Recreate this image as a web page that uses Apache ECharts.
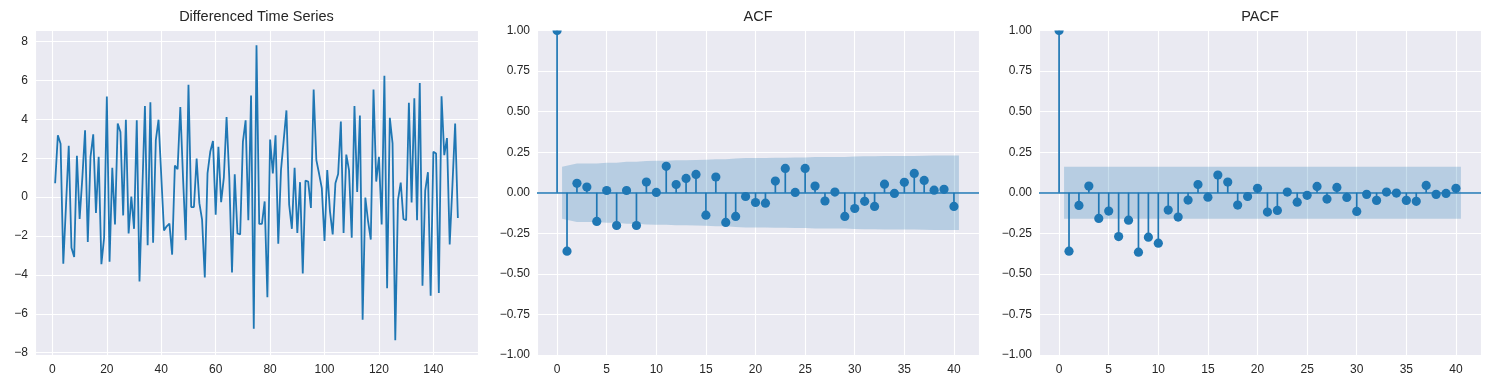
<!DOCTYPE html>
<html><head><meta charset="utf-8">
<script src="https://cdn.jsdelivr.net/npm/echarts@6/dist/echarts.min.js"></script>
<style>html,body{margin:0;padding:0;background:#fff}#c{width:1490px;height:390px}</style>
</head><body><div id="c"></div>
<script>
// ---------- data ----------
const tsValues = [
  0.71, 3.18, 2.75, -3.42, -0.4, 2.64, -2.6, -3.08, 2.13, -1.12,
  1.0, 3.44, -2.31, 2.07, 3.23, -0.82, 2.07, -3.45, -2.09, 5.17,
  -3.32, 1.51, -1.41, 3.78, 3.35, -0.94, 3.98, -1.87, 0.03, -1.63,
  3.95, -4.34, 0.2, 4.68, -2.48, 4.88, -2.35, 2.93, 3.98, 1.1,
  -1.72, -1.5, -1.36, -2.96, 1.62, 1.43, 4.63, 1.0, -2.21, 5.78,
  -0.51, -0.51, 1.99, -0.31, -1.16, -4.13, 1.22, 2.33, 2.89, -0.9,
  2.59, -0.26, 1.0, 4.12, 1.0, -3.88, 1.17, -1.87, -1.92, 2.84,
  3.95, -1.19, 5.22, -6.77, 7.81, -1.38, -1.38, -0.22, -5.15, 2.96,
  1.22, 3.18, -2.4, 1.39, 2.93, 4.46, -0.39, -1.63, 1.51, -1.84,
  0.77, -3.93, 0.85, 0.8, -0.56, 5.53, 1.9, 1.2, 0.46, -2.26,
  1.39, -0.73, -1.92, 0.71, 1.19, 3.89, -1.84, 2.19, 1.39, -2.09,
  4.68, 0.26, 4.2, -6.31, -0.02, -1.24, -2.18, 5.53, 0.8, 2.07,
  -1.41, 6.24, -4.69, 4.08, 2.76, -7.36, -0.14, 0.75, -1.12, -1.19,
  4.85, -0.27, 5.09, -1.19, 5.87, -4.56, 0.34, 1.28, -5.07, 2.33,
  2.24, -4.93, 5.19, 2.16, 3.04, -2.43, 0.6, 3.78, -1.07
];
const acfValues = [1.0, -0.36, 0.058, 0.035, -0.177, 0.014, -0.202, 0.014, -0.202, 0.066,
  0.002, 0.163, 0.051, 0.088, 0.113, -0.138, 0.097, -0.183, -0.146, -0.023,
  -0.06, -0.064, 0.072, 0.15, 0.002, 0.15, 0.041, -0.051, 0.004, -0.146,
  -0.097, -0.053, -0.084, 0.053, -0.004, 0.064, 0.119, 0.076, 0.016, 0.021, -0.084];
const acfBand = [0.161, 0.180, 0.181, 0.181, 0.185, 0.185, 0.191, 0.191, 0.196, 0.197,
  0.197, 0.200, 0.201, 0.202, 0.203, 0.206, 0.207, 0.211, 0.214, 0.214,
  0.214, 0.215, 0.215, 0.218, 0.218, 0.221, 0.221, 0.221, 0.221, 0.224,
  0.225, 0.225, 0.226, 0.226, 0.226, 0.227, 0.228, 0.229, 0.229, 0.229];
const pacfValues = [1.0, -0.36, -0.078, 0.041, -0.158, -0.113, -0.27, -0.169, -0.366, -0.274,
  -0.311, -0.107, -0.15, -0.045, 0.051, -0.027, 0.109, 0.066, -0.076, -0.023,
  0.027, -0.119, -0.109, 0.004, -0.058, -0.016, 0.039, -0.039, 0.033, -0.029,
  -0.115, -0.01, -0.047, 0.004, -0.002, -0.047, -0.053, 0.045, -0.01, -0.004, 0.027];
const pacfBand = [0.161, 0.161, 0.161, 0.161, 0.161, 0.161, 0.161, 0.161, 0.161, 0.161,
  0.161, 0.161, 0.161, 0.161, 0.161, 0.161, 0.161, 0.161, 0.161, 0.161,
  0.161, 0.161, 0.161, 0.161, 0.161, 0.161, 0.161, 0.161, 0.161, 0.161,
  0.161, 0.161, 0.161, 0.161, 0.161, 0.161, 0.161, 0.161, 0.161, 0.161];
const tsXTicks = [0, 20, 40, 60, 80, 100, 120, 140];
const tsYTicks = [-8, -6, -4, -2, 0, 2, 4, 6, 8];
const lagTicks = [0, 5, 10, 15, 20, 25, 30, 35, 40];
const corrYTicks = [-1, -0.75, -0.5, -0.25, 0, 0.25, 0.5, 0.75, 1];
const titles = ['Differenced Time Series', 'ACF', 'PACF'];

// ---------- styling ----------
const BLUE = '#1f77b4';
const FONT = "'Liberation Sans', Arial, sans-serif";
const TXT = '#262626';
const grids = [
  {left: 35, top: 30.5, width: 443, height: 324.5},
  {left: 537, top: 30.5, width: 442, height: 324.5},
  {left: 1039, top: 30.5, width: 442, height: 324.5}
];

function fmt(ticks, dec) {
  return function (v) {
    if (!ticks.some(t => Math.abs(t - v) < 1e-9)) return '';
    const s = dec ? v.toFixed(dec) : String(Math.round(v));
    return s.replace('-', '\u2212');
  };
}
function axisBase(ticks, dec, isX) {
  return {
    axisLine: {show: false}, axisTick: {show: false},
    splitLine: {show: true, lineStyle: {color: '#ffffff', width: 1.1}},
    axisLabel: {color: TXT, fontSize: 12, fontFamily: FONT, margin: isX ? 9 : 7,
      formatter: fmt(ticks, dec), showMinLabel: true, showMaxLabel: true}
  };
}

const xAxes = [
  Object.assign({type: 'value', gridIndex: 0, min: -6.4, max: 156.4, splitNumber: 8}, axisBase(tsXTicks, 0, true)),
  Object.assign({type: 'value', gridIndex: 1, min: -2.025, max: 42.525, splitNumber: 9}, axisBase(lagTicks, 0, true)),
  Object.assign({type: 'value', gridIndex: 2, min: -2.025, max: 42.525, splitNumber: 9}, axisBase(lagTicks, 0, true))
];
const yAxes = [
  Object.assign({type: 'value', gridIndex: 0, min: -8.12, max: 8.57, splitNumber: 8}, axisBase(tsYTicks, 0, false)),
  Object.assign({type: 'value', gridIndex: 1, min: -1, max: 1, interval: 0.25}, axisBase(corrYTicks, 2, false)),
  Object.assign({type: 'value', gridIndex: 2, min: -1, max: 1, interval: 0.25}, axisBase(corrYTicks, 2, false))
];

function bandSeries(idx, band) {
  const n = band.length;
  const xs = band.map((b, i) => (i === 0 ? 0.5 : (i === n - 1 ? n + 0.5 : i + 1)));
  return {
    type: 'custom', xAxisIndex: idx, yAxisIndex: idx, clip: true, z: 1, silent: true,
    data: [[0, 0]],
    renderItem: function (params, api) {
      const pts = [];
      for (let i = 0; i < n; i++) pts.push(api.coord([xs[i], band[i]]));
      for (let i = n - 1; i >= 0; i--) pts.push(api.coord([xs[i], -band[i]]));
      return {type: 'polygon', shape: {points: pts}, style: {fill: 'rgba(31,119,180,0.25)', stroke: null}};
    }
  };
}
function stemSeries(idx, vals) {
  return {
    type: 'custom', xAxisIndex: idx, yAxisIndex: idx, clip: true, z: 3, silent: true,
    data: vals.map((v, i) => [i, v]),
    renderItem: function (params, api) {
      const p0 = api.coord([api.value(0), 0]);
      const p1 = api.coord([api.value(0), api.value(1)]);
      return {type: 'group', children: [
        {type: 'line', shape: {x1: p0[0], y1: p0[1], x2: p1[0], y2: p1[1]}, style: {stroke: BLUE, lineWidth: 1.7}},
        {type: 'circle', shape: {cx: p1[0], cy: p1[1], r: 4.6}, style: {fill: BLUE}}
      ]};
    },
    markLine: {silent: true, symbol: 'none', label: {show: false}, animation: false,
      lineStyle: {color: BLUE, width: 1.7, type: 'solid'}, data: [{yAxis: 0}]}
  };
}

const series = [
  {type: 'line', xAxisIndex: 0, yAxisIndex: 0, showSymbol: false, silent: true,
   data: tsValues.map((v, i) => [i + 1, v]),
   lineStyle: {color: BLUE, width: 1.8}, itemStyle: {color: BLUE}},
  bandSeries(1, acfBand), stemSeries(1, acfValues),
  bandSeries(2, pacfBand), stemSeries(2, pacfValues)
];

const graphic = titles.map((t, i) => ({
  type: 'text', x: grids[i].left + grids[i].width / 2, y: 17, silent: true,
  style: {text: t, align: 'center', verticalAlign: 'middle', textAlign: 'center', textVerticalAlign: 'middle',
    fill: TXT, fontSize: 14.5, fontFamily: FONT}
}));

const chart = echarts.init(document.getElementById('c'), null, {renderer: 'canvas'});
chart.setOption({
  animation: false,
  backgroundColor: '#ffffff',
  grid: grids.map(g => Object.assign({show: true, backgroundColor: '#EAEAF2', borderWidth: 0, containLabel: false}, g)),
  xAxis: xAxes, yAxis: yAxes, series: series, graphic: graphic
});
</script></body></html>
